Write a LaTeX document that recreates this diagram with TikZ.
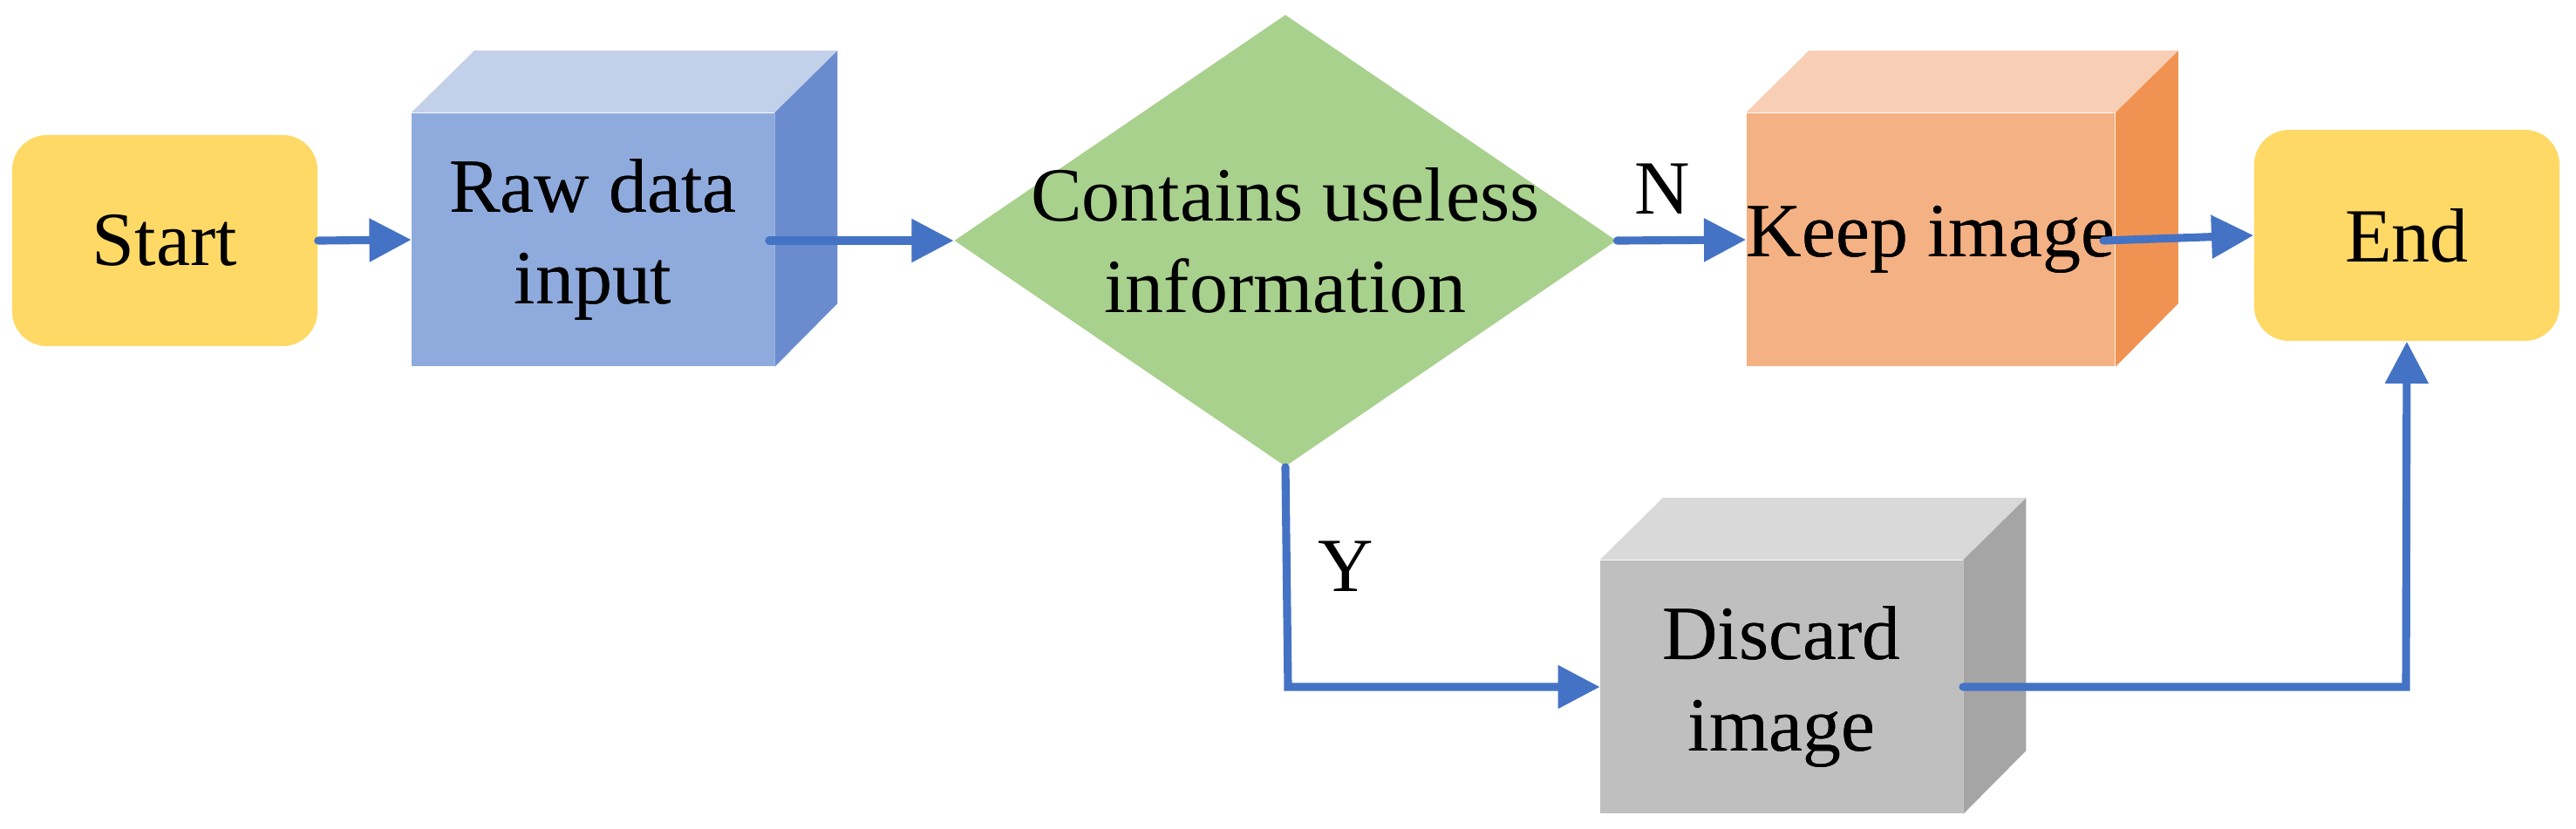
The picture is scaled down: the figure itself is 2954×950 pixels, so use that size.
\documentclass[tikz,border=0pt]{standalone}
\usepackage{fontspec}
\setmainfont{Liberation Serif}
\usetikzlibrary{arrows.meta,shapes.geometric}
\definecolor{ylw}{HTML}{FFD966}
\definecolor{bluF}{HTML}{8FAADC}\definecolor{bluT}{HTML}{C3D0EA}\definecolor{bluS}{HTML}{6A8CCF}
\definecolor{grn}{HTML}{A9D18E}
\definecolor{orF}{HTML}{F4B183}\definecolor{orT}{HTML}{F8CFB5}\definecolor{orS}{HTML}{F09352}
\definecolor{gyF}{HTML}{BFBFBF}\definecolor{gyT}{HTML}{D9D9D9}\definecolor{gyS}{HTML}{A5A5A5}
\definecolor{arr}{HTML}{4472C4}
\begin{document}
\begin{tikzpicture}[x=0.01cm,y=-0.01cm,
  txt/.style={font=\fontsize{25}{30}\selectfont,align=center,text=black},
  term/.style={txt,fill=ylw,rounded corners=0.4cm,minimum width=3.5cm,minimum height=2.42cm,inner sep=0},
  front/.style={txt,minimum width=4.15cm,minimum height=2.9cm,inner sep=0},
  conn/.style={draw=arr,line width=2.6pt,line cap=round,-{Triangle[length=13.7pt,width=13.6pt]}}]
\useasboundingbox (0,0) rectangle (2954,950);
\newcommand{\cubeside}[4]{%
  \fill[#2] (#1.north west) -- ++(72,-71) -- ++(415,0) -- ([xshift=0.72cm,yshift=0.71cm]#1.north east) -- (#1.north east) -- cycle;
  \fill[#3] (#1.north east) -- ++(72,-71) -- ++(0,290) -- (#1.south east) -- cycle;}
% nodes
\node[term] (start) at (189,276) {Start};
\node[term] (end) at (2760,270) {End};
\node[front,fill=bluF] (raw) at (680,275) {Raw data\\input};
\cubeside{raw}{bluT}{bluS}{}
\node[front,fill=orF] (keep) at (2214,275) {Keep image};
\cubeside{keep}{orT}{orS}{}
\node[front,fill=gyF] (disc) at (2043,788) {Discard\\image};
\cubeside{disc}{gyT}{gyS}{}
\node[txt] at (raw) {Raw data\\input};
\node[txt] at (keep) {Keep image};
\node[txt] at (disc) {Discard\\image};
\node[diamond,fill=grn,minimum width=7.59cm,minimum height=5.18cm,inner sep=0,txt,aspect=1.465] (dec) at (1474,276) {};
\node[txt] at (dec) {Contains useless\\information};
\coordinate (rawout) at (882,276);
\coordinate (keepout) at (2412,276);
\coordinate (discout) at (2251,788);
\coordinate (yc) at (1477,788);
\coordinate (ec) at (2759,788);
% connectors
\draw[conn] (start.east) -- (raw.west);
\draw[conn] (rawout) -- (dec.west);
\draw[conn] (dec.east) -- node[txt,above=4pt,pos=0.35]{N} (keep.west);
\draw[conn] (keepout) -- (end.west);
\draw[conn] (dec.south) -- node[txt,right=0.2cm,pos=0.45]{Y} (yc) -- (disc.west);
\draw[conn] (discout) -- (ec) -- (end.south);
\end{tikzpicture}
\end{document}
